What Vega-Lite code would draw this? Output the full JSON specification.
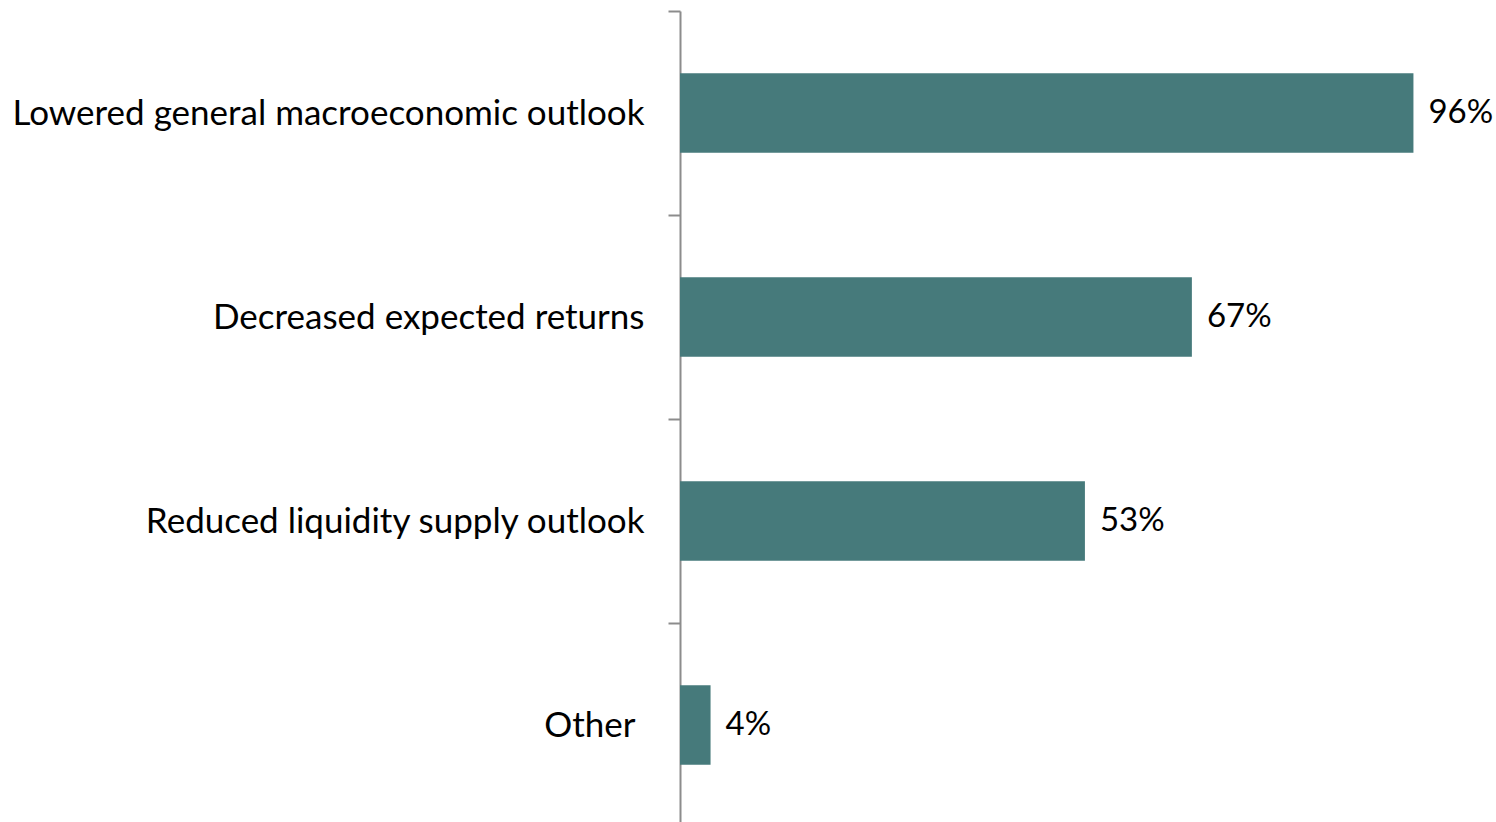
{
  "$schema": "https://vega.github.io/schema/vega-lite/v6.json",
  "autosize": {"type": "none"},
  "padding": {"left": 680, "top": 11, "right": 52, "bottom": 0},
  "width": 764,
  "height": 816,
  "background": "white",
  "data": {
    "values": [
      {"category": "Lowered general macroeconomic outlook", "value": 96, "label": "96%"},
      {"category": "Decreased expected returns", "value": 67, "label": "67%"},
      {"category": "Reduced liquidity supply outlook", "value": 53, "label": "53%"},
      {"category": "Other", "value": 4, "label": "4%"}
    ]
  },
  "encoding": {
    "y": {
      "field": "category",
      "type": "nominal",
      "sort": null,
      "scale": {"paddingInner": 0, "paddingOuter": 0},
      "axis": {
        "title": null,
        "domainColor": "#8c8c8c",
        "domainWidth": 2,
        "tickColor": "#8c8c8c",
        "tickWidth": 2,
        "tickSize": 12,
        "tickBand": "extent",
        "labelPadding": {"condition": {"test": "datum.value === 'Other'", "value": 33}, "value": 24},
        "labelFont": "Lato",
        "labelFontSize": 35,
        "labelColor": "#000000",
        "labelLimit": 700
      }
    },
    "x": {
      "field": "value",
      "type": "quantitative",
      "scale": {"domain": [0, 100]},
      "axis": null
    }
  },
  "layer": [
    {
      "mark": {"type": "bar", "color": "#467A7B", "height": {"band": 0.39}}
    },
    {
      "mark": {"type": "text", "align": "left", "baseline": "middle", "dx": 15, "font": "Lato", "fontSize": 33, "color": "#000000"},
      "encoding": {"text": {"field": "label"}}
    }
  ],
  "config": {"view": {"stroke": null}}
}
